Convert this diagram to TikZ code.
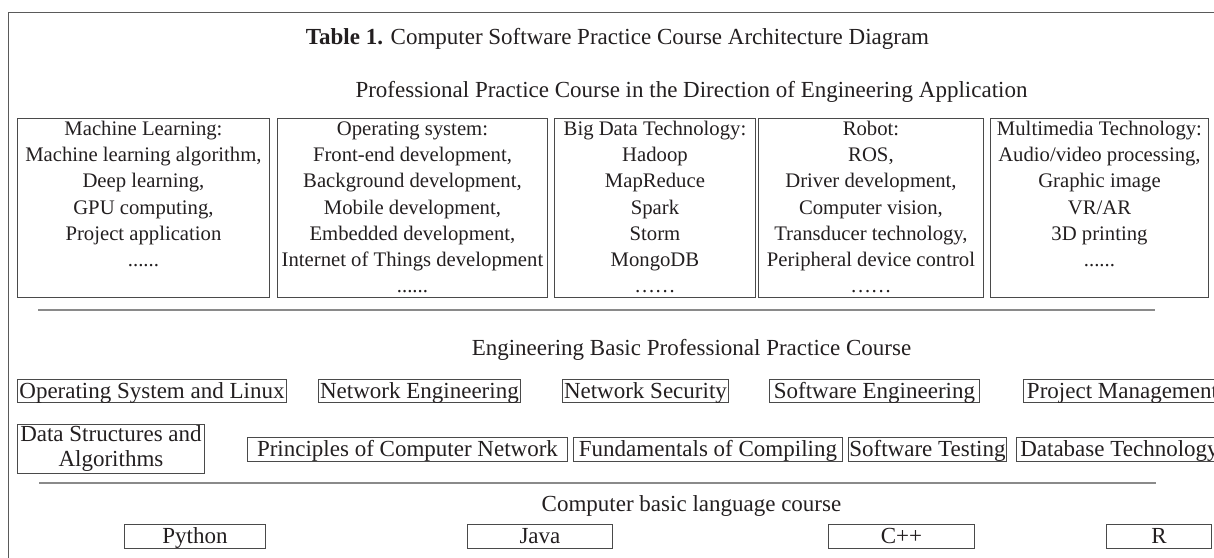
\documentclass[tikz,border=0pt]{standalone}
\usepackage{fontspec}
\setmainfont{Liberation Serif}
\definecolor{txtc}{HTML}{231F20}
\definecolor{boxc}{HTML}{4A4A4A}
\definecolor{rulec}{HTML}{8A8A8A}
\definecolor{framec}{HTML}{5A5A5A}
\newcommand\tbtext[2]{\parbox[c][179pt][t]{#1}{\centering\rule{0pt}{17pt}#2}}
\begin{document}
\begin{tikzpicture}[x=1pt,y=-1pt,
  lbl/.style={inner sep=0pt, anchor=base, text=txtc, font=\fontsize{23}{27}\selectfont},
  tbox/.style={draw=boxc, line width=0.9pt, inner sep=0pt, anchor=north west, text=txtc, font=\fontsize{20.7}{26.2}\selectfont},
  rbox/.style={draw=boxc, line width=0.9pt, inner sep=0pt, anchor=north west, text=txtc, font=\fontsize{23}{25}\selectfont, text height=19pt, text depth=4pt},
  dbox/.style={draw=boxc, line width=0.9pt, inner sep=0pt, anchor=north west, text=txtc, font=\fontsize{23}{25}\selectfont, align=center},
  hrule/.style={draw=rulec, line width=1.4pt},
  framel/.style={draw=framec, line width=1pt}]
\useasboundingbox (0,0) rectangle (1214,557);
\clip (0,0) rectangle (1214,557);
% outer frame
\coordinate (fTL) at (8.3,12.7);
\coordinate (fTR) at (1225,12.7);
\coordinate (fBL) at (8.3,565);
\draw[framel] (fTR) -- (fTL) -- (fBL);
% titles
\node[lbl] (title) at (617.5,44) {\textbf{Table 1.} Computer Software Practice Course Architecture Diagram};
\node[lbl] (sub1) at (691.5,97) {Professional Practice Course in the Direction of Engineering Application};
% top boxes
\node[tbox] (ml) at (17,118) {\tbtext{252pt}{Machine Learning:\\Machine learning algorithm,\\Deep learning,\\GPU computing,\\Project application\\......}};
\node[tbox] (os) at (277,118) {\tbtext{270pt}{Operating system:\\Front-end development,\\Background development,\\Mobile development,\\Embedded development,\\Internet of Things development\\......}};
\node[tbox] (bd) at (554,118) {\tbtext{201pt}{Big Data Technology:\\Hadoop\\MapReduce\\Spark\\Storm\\MongoDB\\……}};
\node[tbox] (rb) at (758,118) {\tbtext{225pt}{Robot:\\ROS,\\Driver development,\\Computer vision,\\Transducer technology,\\Peripheral device control\\……}};
\node[tbox] (mm) at (990,118) {\tbtext{218pt}{Multimedia Technology:\\Audio/video processing,\\Graphic image\\VR/AR\\3D printing\\......}};
% rule 1
\coordinate (r1a) at (38,310);
\coordinate (r1b) at (1155,310);
\draw[hrule] (r1a) -- (r1b);
\node[lbl] (sub2) at (691.5,355) {Engineering Basic Professional Practice Course};
% row 1
\node[rbox, minimum width=269pt, minimum height=23pt] (osl) at (17,379) {Operating System and Linux};
\node[rbox, minimum width=202pt, minimum height=23pt] (ne) at (318,379) {Network Engineering};
\node[rbox, minimum width=166pt, minimum height=23pt] (ns) at (562,379) {Network Security};
\node[rbox, minimum width=210pt, minimum height=23pt] (se) at (769,379) {Software Engineering};
\node[rbox, minimum width=198pt, minimum height=23pt] (pm) at (1023,379) {Project Management};
% row 2
\node[dbox, minimum width=187pt, minimum height=49pt] (ds) at (17,424) {Data Structures and\\Algorithms};
\node[rbox, minimum width=320pt, minimum height=24pt] (pcn) at (247,437) {Principles of Computer Network};
\node[rbox, minimum width=269pt, minimum height=24pt] (fc) at (573,437) {Fundamentals of Compiling};
\node[rbox, minimum width=158pt, minimum height=24pt] (st) at (848,437) {Software Testing};
\node[rbox, minimum width=206pt, minimum height=24pt] (dt) at (1016,437) {Database Technology};
% rule 2
\coordinate (r2a) at (39,483);
\coordinate (r2b) at (1156,483);
\draw[hrule] (r2a) -- (r2b);
\node[lbl] (sub3) at (691.5,511) {Computer basic language course};
% row 3
\node[rbox, minimum width=141pt, minimum height=24pt] (py) at (124,524) {Python};
\node[rbox, minimum width=145pt, minimum height=24pt] (jv) at (467,524) {Java};
\node[rbox, minimum width=146pt, minimum height=24pt] (cpp) at (828,524) {C++};
\node[rbox, minimum width=105pt, minimum height=24pt] (rr) at (1106,524) {R};
\end{tikzpicture}
\end{document}
